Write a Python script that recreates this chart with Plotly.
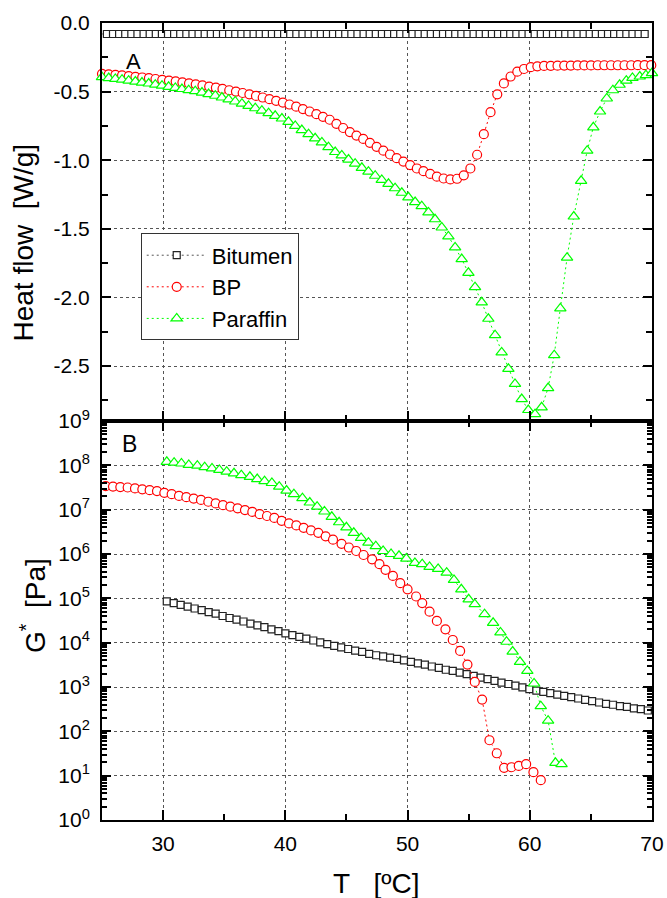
import plotly.graph_objects as go

# ---------------- Panel A : heat flow (W/g) ----------------
bit_T_top = [24.9, 25.4, 25.9, 26.4, 26.9, 27.4, 27.9, 28.4, 28.9, 29.4,
             29.9, 30.4, 30.9, 31.4, 31.9, 32.4, 32.9, 33.4, 33.9, 34.4,
             34.9, 35.4, 35.9, 36.4, 36.9, 37.4, 37.9, 38.4, 38.9, 39.4,
             39.9, 40.4, 40.9, 41.4, 41.9, 42.4, 42.9, 43.4, 43.9, 44.4,
             44.9, 45.4, 45.9, 46.4, 46.9, 47.4, 47.9, 48.4, 48.9, 49.4,
             49.9, 50.4, 50.9, 51.4, 51.9, 52.4, 52.9, 53.4, 53.9, 54.4,
             54.9, 55.4, 55.9, 56.4, 56.9, 57.4, 57.9, 58.4, 58.9, 59.4,
             59.9, 60.4, 60.9, 61.4, 61.9, 62.4, 62.9, 63.4, 63.9, 64.4,
             64.9, 65.4, 65.9, 66.4, 66.9, 67.4, 67.9, 68.4, 68.9, 69.4]
bit_HF = [-0.08, -0.08, -0.08, -0.08, -0.08, -0.08, -0.08, -0.08, -0.08, -0.08,
          -0.08, -0.08, -0.08, -0.08, -0.08, -0.08, -0.08, -0.08, -0.08, -0.08,
          -0.08, -0.08, -0.08, -0.08, -0.08, -0.08, -0.08, -0.08, -0.08, -0.08,
          -0.08, -0.08, -0.08, -0.08, -0.08, -0.08, -0.08, -0.08, -0.08, -0.08,
          -0.08, -0.08, -0.08, -0.08, -0.08, -0.08, -0.08, -0.08, -0.08, -0.08,
          -0.08, -0.08, -0.08, -0.08, -0.08, -0.08, -0.08, -0.08, -0.08, -0.08,
          -0.08, -0.08, -0.08, -0.08, -0.08, -0.08, -0.08, -0.08, -0.08, -0.08,
          -0.08, -0.08, -0.08, -0.08, -0.08, -0.08, -0.08, -0.08, -0.08, -0.08,
          -0.08, -0.08, -0.08, -0.08, -0.08, -0.08, -0.08, -0.08, -0.08, -0.08]

bp_T_top = [25.00, 25.55, 26.10, 26.64, 27.19, 27.74, 28.29, 28.84, 29.38, 29.93,
            30.48, 31.03, 31.58, 32.12, 32.67, 33.22, 33.77, 34.32, 34.86, 35.41,
            35.96, 36.51, 37.06, 37.60, 38.15, 38.70, 39.25, 39.80, 40.34, 40.89,
            41.44, 41.99, 42.54, 43.08, 43.63, 44.18, 44.73, 45.28, 45.82, 46.37,
            46.92, 47.47, 48.02, 48.56, 49.11, 49.66, 50.21, 50.76, 51.30, 51.85,
            52.40, 52.95, 53.50, 54.05, 54.60, 55.14, 55.69, 56.24, 56.79, 57.34,
            57.88, 58.43, 58.98, 59.53, 60.08, 60.62, 61.17, 61.72, 62.27, 62.82,
            63.36, 63.91, 64.46, 65.01, 65.56, 66.10, 66.65, 67.20, 67.75, 68.30,
            68.84, 69.39, 69.94]
bp_HF = [-0.370, -0.374, -0.378, -0.382, -0.387, -0.392, -0.397, -0.402, -0.408, -0.414,
         -0.420, -0.426, -0.433, -0.440, -0.447, -0.455, -0.463, -0.471, -0.480, -0.490,
         -0.500, -0.510, -0.520, -0.531, -0.543, -0.555, -0.567, -0.580, -0.594, -0.610,
         -0.627, -0.645, -0.664, -0.684, -0.705, -0.735, -0.765, -0.795, -0.820, -0.845,
         -0.873, -0.902, -0.930, -0.958, -0.985, -1.010, -1.035, -1.060, -1.080, -1.100,
         -1.120, -1.133, -1.140, -1.135, -1.110, -1.060, -0.960, -0.810, -0.650, -0.520,
         -0.440, -0.390, -0.355, -0.335, -0.322, -0.316, -0.313, -0.312, -0.311, -0.310,
         -0.310, -0.309, -0.309, -0.309, -0.308, -0.308, -0.308, -0.308, -0.308, -0.308,
         -0.307, -0.307, -0.307]

par_T_top = [25.00, 25.55, 26.09, 26.64, 27.18, 27.73, 28.27, 28.82, 29.36, 29.91,
             30.45, 31.00, 31.54, 32.09, 32.63, 33.18, 33.72, 34.27, 34.81, 35.36,
             35.90, 36.45, 36.99, 37.54, 38.08, 38.63, 39.17, 39.72, 40.26, 40.81,
             41.35, 41.90, 42.44, 42.99, 43.53, 44.08, 44.62, 45.17, 45.71, 46.26,
             46.80, 47.35, 47.89, 48.44, 48.98, 49.53, 50.07, 50.62, 51.16, 51.71,
             52.25, 52.80, 53.34, 53.89, 54.43, 54.98, 55.52, 56.07, 56.61, 57.16,
             57.70, 58.25, 58.79, 59.34, 59.88, 60.43, 60.97, 61.50, 62.00, 62.50,
             63.05, 63.60, 64.20, 64.70, 65.20, 65.75, 66.30, 66.80, 67.35, 67.90,
             68.40, 69.00, 69.50, 70.00]
par_HF = [-0.395, -0.401, -0.407, -0.413, -0.420, -0.427, -0.434, -0.441, -0.449, -0.457,
          -0.465, -0.473, -0.481, -0.489, -0.497, -0.507, -0.518, -0.530, -0.543, -0.557,
          -0.572, -0.588, -0.604, -0.621, -0.639, -0.657, -0.676, -0.696, -0.720, -0.750,
          -0.780, -0.810, -0.840, -0.870, -0.905, -0.940, -0.965, -0.995, -1.025, -1.055,
          -1.083, -1.113, -1.143, -1.172, -1.204, -1.237, -1.270, -1.305, -1.335, -1.380,
          -1.430, -1.490, -1.555, -1.635, -1.720, -1.820, -1.925, -2.035, -2.155, -2.275,
          -2.400, -2.520, -2.630, -2.740, -2.820, -2.850, -2.800, -2.660, -2.420, -2.080,
          -1.710, -1.410, -1.150, -0.930, -0.760, -0.645, -0.550, -0.490, -0.450, -0.420,
          -0.400, -0.390, -0.380, -0.365]

# ---------------- Panel B : complex modulus G* (Pa) ----------------
bit_T_bot = [30.30, 30.87, 31.44, 32.01, 32.58, 33.16, 33.73, 34.30, 34.87, 35.44,
             36.01, 36.58, 37.15, 37.72, 38.29, 38.87, 39.44, 40.01, 40.58, 41.15,
             41.72, 42.29, 42.86, 43.43, 44.00, 44.57, 45.14, 45.71, 46.28, 46.86,
             47.43, 48.00, 48.57, 49.14, 49.71, 50.28, 50.85, 51.42, 51.99, 52.56,
             53.13, 53.70, 54.27, 54.84, 55.41, 55.98, 56.55, 57.12, 57.69, 58.26,
             58.83, 59.40, 59.97, 60.54, 61.11, 61.68, 62.25, 62.82, 63.39, 63.96,
             64.53, 65.10, 65.67, 66.24, 66.81, 67.38, 67.95, 68.52, 69.09, 69.66]
bit_G = [8.5e4, 7.8e4, 7.1e4, 6.5e4, 5.9e4, 5.4e4, 4.9e4, 4.5e4, 4.0e4, 3.6e4,
         3.3e4, 3.0e4, 2.7e4, 2.45e4, 2.24e4, 2.0e4, 1.82e4, 1.62e4, 1.48e4, 1.35e4,
         1.23e4, 1.12e4, 1.02e4, 9.3e3, 8.5e3, 7.8e3, 7.2e3, 6.6e3, 6.2e3, 5.6e3,
         5.2e3, 4.9e3, 4.6e3, 4.3e3, 4.0e3, 3.7e3, 3.4e3, 3.2e3, 2.9e3, 2.7e3,
         2.45e3, 2.3e3, 2.1e3, 1.95e3, 1.78e3, 1.62e3, 1.51e3, 1.38e3, 1.26e3, 1.17e3,
         1.07e3, 977, 891, 832, 776, 724, 676, 631, 589, 550,
         513, 479, 447, 417, 398, 372, 355, 331, 316, 295]

bp_T_bot = [25.3, 25.9, 26.5, 27.1, 27.7, 28.3, 28.9, 29.5, 30.1, 30.7,
            31.3, 31.9, 32.5, 33.1, 33.7, 34.3, 34.9, 35.5, 36.1, 36.7,
            37.3, 37.9, 38.5, 39.1, 39.7, 40.3, 40.9, 41.5, 42.1, 42.7,
            43.3, 43.9, 44.6, 45.2, 45.8, 46.4, 47.1, 47.7, 48.2, 48.8,
            49.4, 50.0, 50.7, 51.2, 51.8, 52.4, 53.1, 53.7, 54.3, 54.9,
            55.5, 56.1, 56.7, 57.3, 57.9, 58.5, 59.1, 59.7, 60.3, 60.9]
bp_G = [3.39e7, 3.31e7, 3.24e7, 3.16e7, 3.02e7, 2.88e7, 2.75e7, 2.63e7, 2.40e7, 2.24e7,
        2.04e7, 1.91e7, 1.78e7, 1.66e7, 1.51e7, 1.38e7, 1.26e7, 1.17e7, 1.07e7, 9.8e6,
        8.9e6, 7.9e6, 7.2e6, 6.5e6, 5.6e6, 4.9e6, 4.4e6, 3.9e6, 3.4e6, 3.0e6,
        2.5e6, 2.1e6, 1.7e6, 1.4e6, 1.17e6, 9.5e5, 7.6e5, 5.9e5, 4.4e5, 3.2e5,
        2.2e5, 1.6e5, 1.1e5, 7.8e4, 5.0e4, 3.1e4, 2.0e4, 1.15e4, 6.5e3, 3.2e3,
        1.3e3, 520, 63, 32, 15, 15.5, 16.6, 18.2, 12, 7.9]

par_T_bot = [30.3, 30.9, 31.5, 32.1, 32.8, 33.4, 34.0, 34.6, 35.2, 35.8,
             36.4, 37.1, 37.7, 38.3, 38.9, 39.5, 40.1, 40.7, 41.4, 42.0,
             42.6, 43.2, 43.8, 44.4, 45.0, 45.6, 46.2, 46.8, 47.4, 48.0,
             48.65, 49.3, 49.9, 50.6, 51.2, 51.8, 52.5, 53.2, 53.8, 54.4,
             55.0, 55.5, 56.3, 57.0, 57.6, 58.1, 58.6, 59.2, 59.8, 60.35,
             60.9, 61.5, 62.1, 62.6]
par_G = [1.20e8, 1.15e8, 1.10e8, 1.02e8, 9.8e7, 9.1e7, 8.5e7, 7.9e7, 7.2e7, 6.6e7,
         6.0e7, 5.5e7, 4.9e7, 4.4e7, 4.0e7, 3.3e7, 2.7e7, 2.24e7, 1.82e7, 1.45e7,
         1.17e7, 9.1e6, 6.9e6, 5.2e6, 4.0e6, 3.0e6, 2.3e6, 1.8e6, 1.5e6, 1.17e6,
         1.0e6, 9.1e5, 7.9e5, 6.3e5, 5.9e5, 5.1e5, 4.6e5, 3.8e5, 2.6e5, 1.6e5,
         9.5e4, 7.4e4, 4.4e4, 2.8e4, 1.7e4, 1.05e4, 6.3e3, 3.7e3, 2.3e3, 1.2e3,
         370, 174, 19.5, 18.2]

hf_tickvals = [0.0, -0.5, -1.0, -1.5, -2.0, -2.5]
hf_ticktext = ["0.0", "-0.5", "-1.0", "-1.5", "-2.0", "-2.5"]
g_tickvals = [1, 10, 100, 1e3, 1e4, 1e5, 1e6, 1e7, 1e8, 1e9]
g_ticktext = ["10<sup>0</sup>", "10<sup>1</sup>", "10<sup>2</sup>", "10<sup>3</sup>",
              "10<sup>4</sup>", "10<sup>5</sup>", "10<sup>6</sup>", "10<sup>7</sup>",
              "10<sup>8</sup>", "10<sup>9</sup>"]

FONT = "Liberation Sans, Arial, sans-serif"
BLACK = "#222222"
RED = "#FF0000"
GREEN = "#00FF00"

series = [
    ("Bitumen", bit_T_top, bit_HF, bit_T_bot, bit_G, "square", 7, BLACK, "#555555"),
    ("BP", bp_T_top, bp_HF, bp_T_bot, bp_G, "circle", 9, RED, RED),
    ("Paraffin", par_T_top, par_HF, par_T_bot, par_G, "triangle-up", 10, GREEN, GREEN),
]

fig = go.Figure()
for name, tx, ty, bx, by, sym, size, mcol, lcol in series:
    fig.add_trace(go.Scatter(
        x=tx, y=ty, name=name, mode="lines+markers", xaxis="x", yaxis="y",
        line=dict(color=lcol, width=1, dash="2px,3px"),
        marker=dict(symbol=sym, size=size, color="white", line=dict(width=1.2, color=mcol)),
        cliponaxis=False))
for name, tx, ty, bx, by, sym, size, mcol, lcol in series:
    fig.add_trace(go.Scatter(
        x=bx, y=by, name=name, mode="lines+markers", xaxis="x2", yaxis="y2",
        line=dict(color=lcol, width=1, dash="2px,3px"),
        marker=dict(symbol=sym, size=size, color="white", line=dict(width=1.2, color=mcol)),
        cliponaxis=False, showlegend=False))

split = (820 - 421) / 797.0

common_x = dict(range=[25, 70], tick0=0, dtick=10, ticks="inside", ticklen=10, tickwidth=2,
                tickcolor="black", showline=True, linewidth=2, linecolor="black", mirror="ticks",
                showgrid=True, gridcolor="#555555", griddash="dot", gridwidth=1, zeroline=False,
                automargin=False,
                minor=dict(tick0=0, dtick=5, ticks="inside", ticklen=6, tickwidth=2,
                           tickcolor="black", showgrid=False),
                tickfont=dict(family=FONT, size=21, color="black"))

fig.update_layout(
    width=667, height=898,
    margin=dict(l=102, r=15, t=23, b=78, autoexpand=False),
    paper_bgcolor="white", plot_bgcolor="white",
    font=dict(family=FONT, color="black", size=21),
    xaxis=dict(common_x, domain=[0, 1], anchor="y", showticklabels=False),
    xaxis2=dict(common_x, domain=[0, 1], anchor="y2", showticklabels=True, ticklabelstandoff=4),
    yaxis=dict(domain=[split, 1], anchor="x", range=[-2.9, 0], automargin=False,
               tickmode="array", tickvals=hf_tickvals, ticktext=hf_ticktext,
               ticks="inside", ticklen=9, tickwidth=2, tickcolor="black", ticklabelstandoff=6,
               showline=True, linewidth=2, linecolor="black", mirror="ticks",
               showgrid=True, gridcolor="#555555", griddash="dot", gridwidth=1, zeroline=False,
               minor=dict(tickmode="linear", tick0=0, dtick=0.25, ticks="inside", ticklen=6,
                          tickwidth=2, tickcolor="black", showgrid=False),
               tickfont=dict(family=FONT, size=21, color="black")),
    yaxis2=dict(domain=[0, split], anchor="x2", type="log", range=[0, 9], automargin=False,
                tickmode="array", tickvals=g_tickvals, ticktext=g_ticktext,
                ticks="inside", ticklen=9, tickwidth=2, tickcolor="black", ticklabelstandoff=6,
                showline=True, linewidth=2, linecolor="black", mirror="ticks",
                showgrid=True, gridcolor="#555555", griddash="dot", gridwidth=1, zeroline=False,
                minor=dict(tickmode="linear", dtick="D1", ticks="inside", ticklen=5,
                           tickwidth=2, tickcolor="black", showgrid=False),
                tickfont=dict(family=FONT, size=21, color="black")),
    legend=dict(x=0.0704, y=0.736, xanchor="left", yanchor="top", itemwidth=60,
                bgcolor="white", bordercolor="#333333", borderwidth=1,
                font=dict(family=FONT, size=22, color="black"), tracegroupgap=0),
    showlegend=True,
)

ann = [
    dict(text="A", x=0.058, y=0.952, size=22, angle=0),
    dict(text="B", x=0.050, y=0.472, size=23, angle=0),
    dict(text="Heat flow\u00a0\u00a0[W/g]", x=-0.1436, y=0.7246, size=28, angle=-90),
    dict(text="G<sup>*</sup>\u00a0\u00a0[Pa]", x=-0.1255, y=0.2698, size=28, angle=-90),
    dict(text="T\u00a0\u00a0\u00a0[ºC]", x=0.499, y=-0.080, size=28, angle=0),
]
for a in ann:
    fig.add_annotation(text=a["text"], x=a["x"], y=a["y"], xref="paper", yref="paper",
                       xanchor="center", yanchor="middle", showarrow=False,
                       textangle=a["angle"], font=dict(family=FONT, size=a["size"], color="black"))

fig.write_html(
    "out.html",
    config={"displayModeBar": False},
    post_script="document.body.style.margin='0';document.body.style.overflow='hidden';",
)
